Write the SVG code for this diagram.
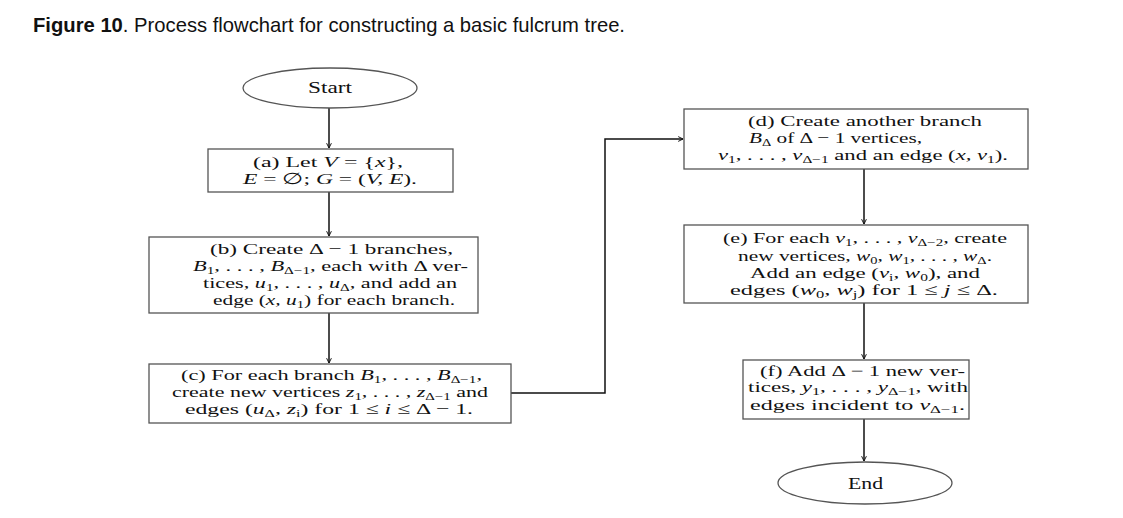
<svg xmlns="http://www.w3.org/2000/svg" width="1123" height="518" viewBox="0 0 1123 518">
<style>
.t{font-family:"Liberation Serif",serif;font-size:15.5px;fill:#111}
.m{font-style:italic}
.s{font-size:10.5px;baseline-shift:-3px}
.box{fill:#fff;stroke:#555;stroke-width:1.3}
.ttl{font-family:"Liberation Sans",Arial,sans-serif;font-size:21px;fill:#111}
.c{fill:none;stroke:#111;stroke-width:1.5}
.big{font-size:16px}
.sm{font-size:15px}
</style>
<defs>
<marker id="ah" viewBox="0 0 10 10" refX="9" refY="5" markerWidth="6" markerHeight="6" markerUnits="userSpaceOnUse" orient="auto">
<path d="M1,1 L9,5 L1,9" fill="none" stroke="#111" stroke-width="1.6"/>
</marker>
</defs>
<rect width="1123" height="518" fill="#fff"/>
<text class="ttl" x="33" y="32" textLength="592" lengthAdjust="spacingAndGlyphs"><tspan font-weight="bold">Figure 10</tspan>. Process flowchart for constructing a basic fulcrum tree.</text>

<g id="connectors">
<line class="c" x1="329" y1="108" x2="329" y2="148" marker-end="url(#ah)"/>
<line class="c" x1="329" y1="192" x2="329" y2="236" marker-end="url(#ah)"/>
<line class="c" x1="329" y1="313" x2="329" y2="363" marker-end="url(#ah)"/>
<polyline class="c" points="511,393 605,393 605,139 683,139" marker-end="url(#ah)"/>
<line class="c" x1="864" y1="169" x2="864" y2="224" marker-end="url(#ah)"/>
<line class="c" x1="864" y1="303" x2="864" y2="359" marker-end="url(#ah)"/>
<line class="c" x1="864" y1="419" x2="864" y2="461" marker-end="url(#ah)"/>
</g>

<g id="start">
<ellipse class="box" cx="330" cy="88" rx="87" ry="20"/>
<text class="t big" x="308" y="93" textLength="44" lengthAdjust="spacingAndGlyphs">Start</text>
</g>

<g id="a">
<rect class="box" x="208" y="149" width="245" height="43"/>
<text class="t" x="253" y="167" textLength="150" lengthAdjust="spacingAndGlyphs">(a) Let <tspan class="m">V</tspan>  =  {<tspan class="m">x</tspan>},</text>
<text class="t" x="243" y="184" textLength="174" lengthAdjust="spacingAndGlyphs"><tspan class="m">E</tspan>  =  ∅; <tspan class="m">G</tspan>  =  (<tspan class="m">V, E</tspan>).</text>
</g>

<g id="b">
<rect class="box" x="149" y="237" width="329" height="76"/>
<text class="t" x="210" y="254" textLength="243" lengthAdjust="spacingAndGlyphs">(b) Create Δ − 1 branches,</text>
<text class="t" x="193" y="271" textLength="275" lengthAdjust="spacingAndGlyphs"><tspan class="m">B</tspan><tspan class="s">1</tspan>, . . . , <tspan class="m">B</tspan><tspan class="s">Δ−1</tspan>, each with Δ ver-</text>
<text class="t" x="203" y="288" textLength="254" lengthAdjust="spacingAndGlyphs">tices, <tspan class="m">u</tspan><tspan class="s">1</tspan>, . . . , <tspan class="m">u</tspan><tspan class="s">Δ</tspan>, and add an</text>
<text class="t" x="213" y="305" textLength="242" lengthAdjust="spacingAndGlyphs">edge (<tspan class="m">x, u</tspan><tspan class="s">1</tspan>) for each branch.</text>
</g>

<g id="c">
<rect class="box" x="149" y="364" width="362" height="59"/>
<text class="t" x="181" y="380" textLength="301" lengthAdjust="spacingAndGlyphs">(c) For each branch <tspan class="m">B</tspan><tspan class="s">1</tspan>, . . . , <tspan class="m">B</tspan><tspan class="s">Δ−1</tspan>,</text>
<text class="t" x="172" y="397" textLength="316" lengthAdjust="spacingAndGlyphs">create new vertices <tspan class="m">z</tspan><tspan class="s">1</tspan>, . . . , <tspan class="m">z</tspan><tspan class="s">Δ−1</tspan> and</text>
<text class="t" x="185" y="414" textLength="288" lengthAdjust="spacingAndGlyphs">edges (<tspan class="m">u</tspan><tspan class="s">Δ</tspan>, <tspan class="m">z</tspan><tspan class="s">i</tspan>) for 1 ≤ <tspan class="m">i</tspan> ≤ Δ − 1.</text>
</g>

<g id="d">
<rect class="box" x="684" y="109" width="344" height="60"/>
<text class="t" x="748" y="126" textLength="234" lengthAdjust="spacingAndGlyphs">(d) Create another branch</text>
<text class="t" x="749" y="143" textLength="173" lengthAdjust="spacingAndGlyphs"><tspan class="m">B</tspan><tspan class="s">Δ</tspan> of Δ − 1 vertices,</text>
<text class="t" x="718" y="160" textLength="290" lengthAdjust="spacingAndGlyphs"><tspan class="m">v</tspan><tspan class="s">1</tspan>, . . . , <tspan class="m">v</tspan><tspan class="s">Δ−1</tspan> and an edge (<tspan class="m">x, v</tspan><tspan class="s">1</tspan>).</text>
</g>

<g id="e">
<rect class="box" x="684" y="225" width="344" height="78"/>
<text class="t" x="723" y="243" textLength="284" lengthAdjust="spacingAndGlyphs">(e) For each <tspan class="m">v</tspan><tspan class="s">1</tspan>, . . . , <tspan class="m">v</tspan><tspan class="s">Δ−2</tspan>, create</text>
<text class="t" x="738" y="261" textLength="254" lengthAdjust="spacingAndGlyphs">new vertices, <tspan class="m">w</tspan><tspan class="s">0</tspan>, <tspan class="m">w</tspan><tspan class="s">1</tspan>, . . . , <tspan class="m">w</tspan><tspan class="s">Δ</tspan>.</text>
<text class="t" x="750" y="278" textLength="230" lengthAdjust="spacingAndGlyphs">Add an edge (<tspan class="m">v</tspan><tspan class="s">i</tspan>, <tspan class="m">w</tspan><tspan class="s">0</tspan>), and</text>
<text class="t" x="730" y="295" textLength="268" lengthAdjust="spacingAndGlyphs">edges (<tspan class="m">w</tspan><tspan class="s">0</tspan>, <tspan class="m">w</tspan><tspan class="s">j</tspan>) for 1  ≤  <tspan class="m">j</tspan>  ≤  Δ.</text>
</g>

<g id="f">
<rect class="box" x="743" y="360" width="226" height="59"/>
<text class="t sm" x="760" y="376" textLength="205" lengthAdjust="spacingAndGlyphs">(f) Add Δ − 1 new ver-</text>
<text class="t sm" x="748" y="392" textLength="220" lengthAdjust="spacingAndGlyphs">tices, <tspan class="m">y</tspan><tspan class="s">1</tspan>, . . . , <tspan class="m">y</tspan><tspan class="s">Δ−1</tspan>, with</text>
<text class="t sm" x="750" y="410" textLength="215" lengthAdjust="spacingAndGlyphs">edges incident to <tspan class="m">v</tspan><tspan class="s">Δ−1</tspan>.</text>
</g>

<g id="end">
<ellipse class="box" cx="865" cy="483" rx="87" ry="21"/>
<text class="t big" x="848" y="489" textLength="35" lengthAdjust="spacingAndGlyphs">End</text>
</g>
</svg>
